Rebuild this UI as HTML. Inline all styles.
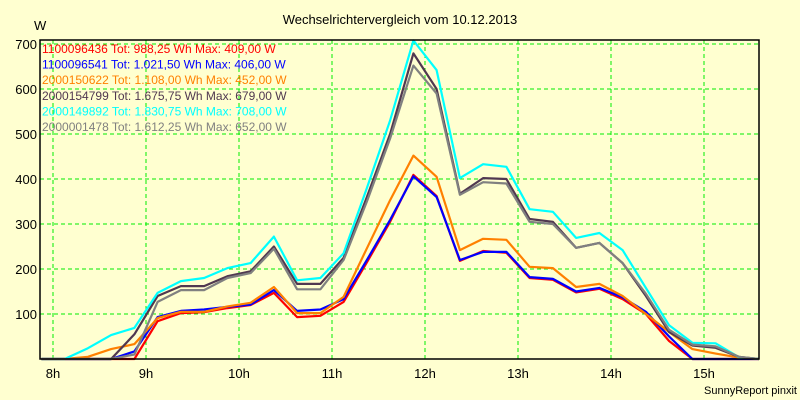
<!DOCTYPE html>
<html><head><meta charset="utf-8"><style>
body{margin:0;background:#ffffd0;}
svg{display:block;font-family:"Liberation Sans",sans-serif;}
</style></head><body>
<svg id="chart" width="800" height="400" viewBox="0 0 800 400">
<rect x="0" y="0" width="800" height="400" fill="#ffffd0"/>
<text x="400" y="24" text-anchor="middle" font-size="13" fill="#000">Wechselrichtervergleich vom 10.12.2013</text>
<text x="34" y="30" font-size="13" fill="#000">W</text>
<text x="797" y="394" text-anchor="end" font-size="11" fill="#000">SunnyReport pinxit</text>
<g id="grid"></g>
<g id="series"></g>
<g id="axes"></g>
<g id="legend"></g>
</svg>
<script>
const hourTicks = ["8h","9h","10h","11h","12h","13h","14h","15h"];
const yTicks = [100,200,300,400,500,600,700];
const startHour = 7.875;
const stepHour = 0.25;
const names = ["1100096436","1100096541","2000150622","2000154799","2000149892","2000001478"];
const totals = ["988,25","1.021,50","1.108,00","1.675,75","1.830,75","1.612,25"];
const maxima = ["409,00","406,00","452,00","679,00","708,00","652,00"];
const colors = ["#ff0000","#0000ff","#ff8000","#503850","#00ffff","#808080"];
const s1100096436 = [0,0,0,0,0,84,102,104,113,120,147,93,96,127,215,305,409,362,218,240,236,180,176,148,156,133,100,40,0,0,0,0];
const s1100096541 = [0,0,0,0,17,93,107,110,116,121,153,107,110,133,220,309,406,360,220,238,238,182,178,150,158,137,105,50,0,0,0,0];
const s2000150622 = [0,0,5,22,33,91,105,105,117,125,160,102,102,138,246,353,452,405,242,267,265,205,202,160,167,140,100,60,22,12,3,0];
const s2000154799 = [0,0,0,0,55,140,162,162,184,195,250,167,167,225,360,500,679,600,367,402,400,311,305,247,258,213,140,60,30,25,5,0];
const s2000149892 = [0,0,24,53,69,147,173,180,202,213,272,175,180,235,380,530,708,642,402,433,427,333,327,269,280,242,158,75,36,35,4,0];
const s2000001478 = [0,0,0,0,10,127,153,153,180,191,245,155,155,220,350,490,652,590,365,393,390,305,300,247,258,213,145,65,32,28,5,0];
const seriesData = [s1100096436,s1100096541,s2000150622,s2000154799,s2000149892,s2000001478];

const NS="http://www.w3.org/2000/svg";
const L=40,R=759,T=40,B=359;
function xScale(h){return 53+(h-8)*93;}
function yScale(v){return B-v*0.45;}
function mk(tag,attrs,parent){const e=document.createElementNS(NS,tag);for(const k in attrs)e.setAttribute(k,attrs[k]);parent.appendChild(e);return e;}
const grid=document.getElementById('grid'),axes=document.getElementById('axes'),ser=document.getElementById('series'),leg=document.getElementById('legend');
yTicks.forEach(v=>{
  const y=yScale(v);
  const g=mk('line',{x1:L,x2:R,y1:y,y2:y,stroke:'#00ee00','stroke-dasharray':'4,3','stroke-width':1},grid);
  
  
  const t=mk('text',{x:37,y:y+5,'text-anchor':'end','font-size':13,fill:'#000'},axes);
  t.textContent=v;
  
  
});
hourTicks.forEach((lab,i)=>{
  const x=xScale(8+i);
  const g=mk('line',{x1:x,x2:x,y1:T,y2:B,stroke:'#00ee00','stroke-dasharray':'4,3','stroke-width':1},grid);
  
  
  const t=mk('text',{x:x,y:378,'text-anchor':'middle','font-size':13,fill:'#000'},axes);
  t.textContent=lab;
  
  
});
const frame=mk('path',{d:`M${L},${T}H${R}V${B}H${L}Z`,fill:'none',stroke:'#000','stroke-width':1.5},axes);


seriesData.forEach((arr,si)=>{
  const pts=arr.map((v,i)=>`${Math.min(R,xScale(startHour+i*stepHour)).toFixed(1)},${yScale(v).toFixed(1)}`).join(' ');
  const p=mk('polyline',{points:pts,fill:'none',stroke:colors[si],'stroke-width':2.2,'stroke-linejoin':'round'},ser);
  
  
});
names.forEach((n,i)=>{
  const t=mk('text',{x:42,y:53+i*15.6,'font-size':12,fill:colors[i]},leg);
  t.textContent=`${n} Tot: ${totals[i]} Wh Max: ${maxima[i]} W`;
  
  
});
</script>
</body></html>
